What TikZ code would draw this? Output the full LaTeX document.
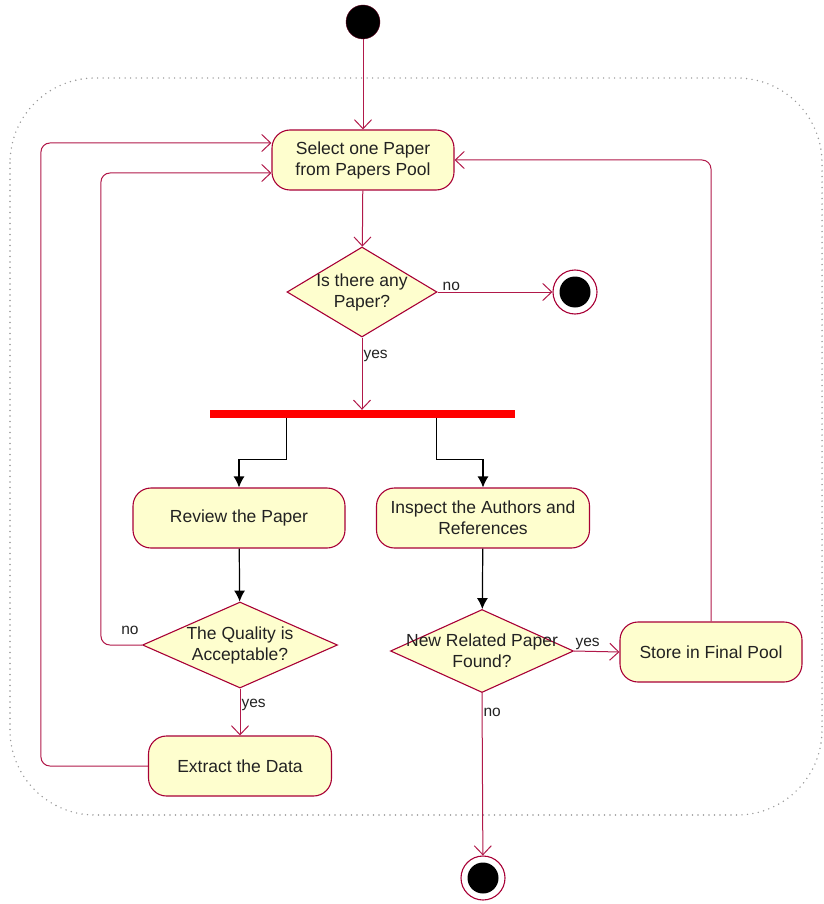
\documentclass[tikz,border=0pt]{standalone}
\usepackage{fontspec}
\setmainfont{Liberation Sans}
\usetikzlibrary{shapes.geometric,arrows.meta,calc}
\definecolor{umlred}{HTML}{A80036}
\definecolor{umlfill}{HTML}{FEFECE}
\definecolor{txt}{HTML}{222222}
\begin{document}
\begin{tikzpicture}[x=1pt,y=-1pt,
  act/.style={draw=umlred,fill=umlfill,line width=1.1pt,rounded corners=18pt,
    minimum height=60pt,align=center,text=txt,font=\fontsize{17.5}{21}\selectfont,inner sep=0pt},
  dec/.style={draw=umlred,fill=umlfill,line width=1.1pt,diamond,inner sep=0pt,shape aspect=1.6},
  dtext/.style={text=txt,font=\fontsize{17.5}{21}\selectfont,align=center},
  lbl/.style={text=txt,font=\fontsize{15.5}{18}\selectfont,inner sep=1pt},
  flow/.style={draw=umlred!90!white,line width=1pt,-{Straight Barb[length=9pt,width=17pt]},rounded corners=9pt},
  blk/.style={draw=black,line width=1.2pt,-{Latex[length=11pt,width=11pt]}},
  startnode/.style={circle,fill=black,draw=umlred!60!black,minimum size=34pt,inner sep=0pt},
  endnode/.style={circle,draw=umlred,fill=white,line width=1.1pt,minimum size=44pt,inner sep=0pt,
    path picture={\fill[black] (path picture bounding box.center) circle (15.5pt);}},
]
\useasboundingbox (0,0) rectangle (823,904);
% container
\draw[gray!80,line width=1.6pt,line cap=round,dash pattern=on 0pt off 5.5pt,rounded corners=85pt] (10,78) rectangle (822,815);

\node[startnode] (start) at (363,22) {};
\node[act,minimum width=182pt] (select) at (363,160) {Select one Paper\\from Papers Pool};
\node[dec,minimum width=150pt,minimum height=90pt,
  label={[dtext]center:{Is there any\\Paper?}}] (d1) at (362,292) {};
\node[endnode] (end1) at (575,292) {};
\node[fill=red,minimum width=305pt,minimum height=8pt,inner sep=0pt] (fork) at (362,414) {};
\node[act,minimum width=212pt] (review) at (239,518) {Review the Paper};
\node[act,minimum width=213pt] (inspect) at (483,518) {Inspect the Authors and\\References};
\node[dec,minimum width=195pt,minimum height=86pt,
  label={[dtext]center:{The Quality is\\Acceptable?}}] (d2) at (240,645) {};
\node[act,minimum width=183pt] (extract) at (240,766) {Extract the Data};
\node[dec,minimum width=183pt,minimum height=83pt,
  label={[dtext]center:{New Related Paper\\Found?}}] (d3) at (482,651) {};
\node[act,minimum width=182pt] (store) at (711,652) {Store in Final Pool};
\node[endnode] (end2) at (483,878) {};

% connectors
\draw[flow] (start) -- (select);
\draw[flow] (select) -- (d1);
\draw[flow] (d1.east) -- node[lbl,above,pos=0.12] {no} (end1);
\draw[flow] (d1.south) -- node[lbl,right,pos=0.25] {yes} (d1.south |- fork.north);
\draw[blk] ($(fork.south west)!0.252!(fork.south east)$) -- ++(0,41) -| (review.north);
\draw[blk] ($(fork.south west)!0.744!(fork.south east)$) -- ++(0,41) -| (inspect.north);
\draw[blk] (review) -- (d2);
\draw[blk] (inspect) -- (d3);
\draw[flow] (d2.west) -- ++(-41,0) |- ([yshift=-13pt]select.west);
\node[lbl] at (130,630) {no};
\draw[flow] (d2.south) -- node[lbl,right,pos=0.35] {yes} (extract);
\draw[flow] (extract.west) -- ++(-107,0) |- ([yshift=17pt]select.west);
\draw[flow] (d3.east) -- node[lbl,above,pos=0.3] {yes} (store.west);
\draw[flow] (d3.south) -- node[lbl,right,pos=0.12] {no} (end2);
\draw[flow] (store.north) |- (select.east);
\end{tikzpicture}
\end{document}
